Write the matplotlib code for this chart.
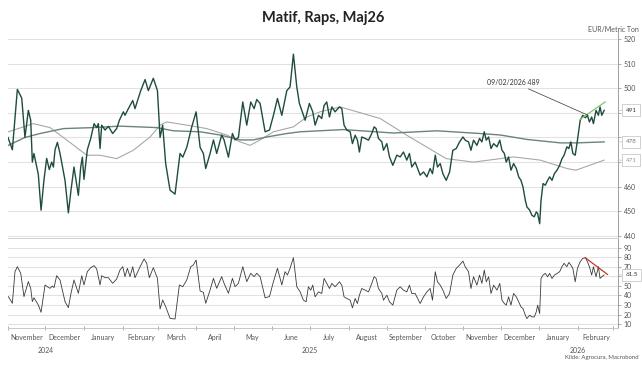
import matplotlib
matplotlib.use("Agg")
import matplotlib.pyplot as plt
import matplotlib.dates as mdates
import matplotlib.ticker as mticker
import pandas as pd

plt.rcParams['font.family'] = ['Lato', 'DejaVu Sans']

# data (days counted from 1 Nov 2024)
start = pd.Timestamp('2024-11-01')

price_days = [0, 3.5, 7.5, 11, 13.6, 16.3, 18.2, 19.5, 20.8, 24.3,
              26.5, 28.9, 31, 33.1, 35, 36.4, 37.7, 39.6, 41.7, 45.7,
              48.4, 50.5, 52.9, 56.4, 58.3, 59.6, 60.9, 63.6, 66.3, 69,
              71.1, 72.4, 73.8, 75.1, 77.8, 80.5, 83.9, 87.1, 89.3, 92.5,
              93.8, 96.5, 100, 101.8, 106.4, 109.9, 112.5, 116.5, 119.8, 121.9,
              124, 126.4, 129.9, 133.9, 137.9, 140.1, 143.3, 147.3, 150.8, 154,
              156.6, 158.5, 162, 164.7, 167.3, 171.3, 173.2, 176.7, 179.9, 182,
              184.7, 188.2, 191.4, 194.6, 197.3, 199.4, 202.1, 206.1, 209.6, 212.8,
              216, 219.5, 223.5, 226.1, 228.8, 231.5, 233.6,
              238.2, 241.6, 244.3, 246.2, 248.9, 251.5, 253.4, 255.5, 257.7, 259.6,
              262.2, 265.7, 267.6, 269.4, 271.6, 274.3, 276.1, 278.3, 280.1, 281.7,
              283.6, 286.3, 289, 291.6, 293.5, 295.1, 297, 299.7, 301, 303.7,
              305.8, 308.5, 311.7, 314.4, 317, 319.7, 321.8, 323.7, 326.4, 330.4,
              333.1, 335.8, 338.4, 340.3, 342.5, 344.3, 346.5, 348.6, 351.3, 354,
              356.6, 359.3, 362, 364.7, 366.5, 369.2, 371.1, 373.2, 375.9, 378,
              379.9, 381.8, 383.4, 385.3, 387.2, 389.3, 392, 394.2, 396, 397.9,
              399.4, 401.3, 403.2, 405.3, 407.5, 409.4, 411.2, 412.8, 414.7, 416,
              418.2, 420, 421.9, 423.5, 424.6, 426.2, 427.3, 428.9, 430.7, 432.6,
              434.2, 436.1, 438, 440.1, 442.2, 444.1, 445.8, 448, 449.6, 451.2,
              452.8, 454.7, 456.5, 458.7, 460.8, 462.9, 464.5, 466.1, 467.9, 469.3,
              471.4, 473.3, 474.6, 476, 477.9]
price = [480, 475, 499.5, 496, 480, 491, 487, 470, 473.5, 465,
         450.5, 463, 471.5, 467, 470, 468, 475, 478, 473.5, 462.6,
         449.4, 458.6, 468, 456.5, 468, 472, 463, 475, 479.6, 485.6,
         484, 485.6, 475.5, 485, 483, 484.5, 481.6, 483.6, 487, 490.4,
         489, 491.7, 495, 491.7, 499, 503.5, 499, 504, 499, 480,
         485, 469.4, 458.6, 457, 473.5, 472, 476, 484.3, 490.4, 476,
         473.5, 467.4, 473.5, 479, 473.5, 481, 479, 472, 481.6, 479,
         480, 494.4, 485, 494.4, 491.7, 495.4, 493.8, 482.3, 483, 489,
         495.8, 489, 499, 500.5, 513.8, 500.5, 493.8,
         487, 493.8, 490.4, 485, 489, 487.7, 493, 494.4, 488.3, 492.4,
         490.4, 492.4, 491.7, 485, 483, 482.3, 477.5, 480.9, 478.9, 474.1,
         480.2, 479.6, 478.9, 481.6, 484.3, 483.6, 479.6, 478.2, 474.8, 477.5,
         472.1, 468.7, 472.8, 472.1, 474.1, 470.8, 473.5, 468, 470, 464.7,
         466, 464, 467.4, 465.3, 472.8, 468, 469.4, 465.3, 462.6, 466,
         474.8, 475.5, 478.2, 480.2, 478.9, 478.2, 474.8, 478.9, 476.8, 479.6,
         478.2, 482.3, 478.9, 480.2, 475.5, 477.5, 476.2, 478.9, 474.8, 473.5,
         470, 472.1, 466.7, 469.4, 467.4, 464, 462.6, 460, 454.5, 451.8,
         450.5, 448.4, 447.8, 449.8, 449.1, 445, 454.5, 461.3, 460.6, 462.6,
         464, 462.6, 465.3, 466.7, 468.7, 471.4, 472.8, 476.2, 475.5, 478.2,
         473.5, 472.8, 478.9, 487, 489, 488, 489, 486.3, 488.3, 485.6,
         491, 489, 492.4, 489, 491]

ma_long_days = [0.3, 13.6, 25.7, 44.4, 68.4, 89.8, 119.2, 132.6, 154, 170,
                186, 196.7, 207.4, 223.5, 234.2, 268.9, 308.9, 343.8, 378.5, 394.6,
                416, 442.7, 456, 477.9]
ma_long = [476.8, 480, 481.6, 483.6, 484, 484.6, 484, 482.7, 482.3, 481,
           479, 479, 480.2, 481.6, 482.3, 483.2, 481.8, 482.7, 481.6, 481,
           479.2, 477.8, 477.8, 478.2]

ma_short_days = [0.3, 20.3, 33.7, 47, 63.1, 73.8, 87.1, 100.5, 113.9, 121.9,
                 127.2, 143.3, 159.3, 175.4, 186, 194.1, 202.1, 212.8, 228.8, 239.5,
                 250.2, 266.2, 298.3, 319.7, 351.3, 373.2, 405.3, 426.7, 448, 455.2,
                 477.9]
ma_short = [482.3, 485.6, 484, 479, 472.8, 472.8, 471.4, 474.8, 480.2, 485,
            486.3, 485, 483.6, 481, 478.2, 476.8, 479, 482.3, 484.3, 488.3,
            490.4, 492.4, 487.7, 480.9, 471.4, 470, 472.1, 470.8, 467.4, 466.7,
            470.8]

rsi_days = [0.3, 3.5, 5.6, 7.5, 10.2, 12.8, 16.3, 18.2, 19.5, 20.8,
            24.3, 26.5, 29.7, 31.5, 33.7, 35.6, 36.9, 39, 41.7, 45.7,
            48.4, 50.5, 52.9, 56.4, 59.1, 60.9, 63.6, 66.3, 69, 71.1,
            73.8, 75.1, 77.8, 80.5, 83.9, 87.1, 89.8, 92, 93.8, 95.7,
            97.8, 100, 101.8, 105.9, 109.1, 111.2, 113.3, 116.5, 119.8, 121.9,
            124, 126.4, 129.9, 133.9, 137.4, 140.1, 143.3, 146.5, 148.6, 150.8,
            154, 156.6, 158.5, 162, 164.7, 167.3, 171.3, 173.2, 176.7, 179.9,
            182, 184.7, 188.2, 191.4, 194.6, 197.3, 199.4, 202.1, 206.1, 209.6,
            212.8, 216, 219.5, 222.1, 224, 226.1, 228.8, 231.5,
            234.2, 236.8, 239, 240.8, 242.7, 244.3, 246.2, 248.9, 251.5, 253.4,
            255.5, 257.7, 259.6, 262.2, 265.7, 267.6, 269.4, 271.6, 274.3, 276.1,
            278.3, 280.1, 281.7, 283.6, 286.3, 289, 291.6, 293.5, 295.1, 297,
            299.7, 301, 303.7, 305.8, 308.5, 311.7, 314.4, 317, 319.7, 321.8,
            323.7, 326.4, 330.4, 333.1, 335.8, 338.4, 340.3, 342.5, 344.3, 346.5,
            348.6, 351.3, 354, 356.6, 359.3, 362, 364.7, 366.5, 369.2, 371.1,
            373.2, 375.9, 378, 379.9, 381.8, 383.4, 385.3, 387.2, 389.3, 392,
            394.2, 396, 397.9, 399.4, 401.3, 403.2, 405.3, 407.5, 409.4, 411.2,
            412.8, 414.7, 416, 418.2, 420, 421.9, 423.5, 424.6, 426.2, 427.3,
            428.9, 430.7, 432.6, 434.2, 436.1, 438, 440.1, 442.2, 444.1, 445.8,
            448, 449.6, 451.2, 452.8, 454.7, 456.5, 458.7, 460.8, 462.9, 464.5,
            466.1, 467.9, 469.3, 471.4, 473.3, 474.6, 476, 477.9]
rsi = [38.8, 31.8, 64.9, 70.1, 63.2, 38.8, 54.5, 47.5, 33.6, 37.7,
       30.1, 22.4, 51, 49.2, 47.5, 49.9, 48.2, 60.7, 56.2, 33.6,
       27.3, 42.3, 56.2, 42.3, 60.7, 51, 64.9, 69.1, 71.2, 67.7,
       51, 60.7, 58.6, 58.6, 52.7, 57.2, 66.7, 70.1, 59.7, 68.4,
       59.7, 70.1, 58.6, 70.1, 78.2, 73.6, 58.6, 69.1, 57.9, 25.9,
       35.3, 28.3, 16.1, 15.4, 51, 49.2, 56.2, 70.1, 71.9, 77.1,
       44.7, 43.3, 31.8, 45.7, 57.9, 47.5, 59.7, 52.7, 42.3, 57.9,
       49.2, 52.7, 70.1, 54.5, 63.2, 59.7, 63.2, 59.7, 37.7, 38.8,
       54.5, 68.4, 51, 64.9, 61.4, 68.4, 79.5, 49.2,
       43.8, 35.1, 33.4, 49.1, 45.6, 50.8, 38.6, 43.8, 42.1, 57.8,
       52.6, 47.3, 52.6, 49.1, 54.3, 50.8, 38.6, 36.9, 35.1, 27.1,
       36.9, 31.6, 40.3, 47.3, 45.6, 43.8, 52.6, 59.6, 57.8, 47.3,
       42.1, 35.1, 40.3, 33.4, 29.9, 45.6, 49.1, 45.6, 43.8, 50.8,
       42.1, 42.1, 31.6, 38.6, 43.8, 47.3, 35.1, 64.8, 54.3, 50.8,
       45.6, 36.9, 42.1, 61.3, 68.3, 71.8, 76, 70.1, 64.8, 47.3,
       59.6, 50.8, 61.3, 52.6, 66.6, 54.3, 59.6, 42.1, 50.8, 45.6,
       52.6, 35.1, 31.6, 29.9, 38.6, 29.9, 42.1, 38.6, 33.4, 28.1,
       26.4, 19.4, 15.9, 19.4, 17.6, 17.6, 22.9, 29.9, 21.1, 57.8,
       61.3, 63.1, 59.6, 63.1, 57.8, 61.3, 63.1, 64.8, 70.1, 73.6,
       70.1, 74.6, 71.8, 68.3, 54.3, 68.3, 75.3, 78.8, 79.5, 75.3,
       70.1, 61.3, 70.1, 59.6, 70.1, 57.8, 59.6, 61.5]

trend_days = [458.7, 478.7]
trend_price = [487.4, 494.4]
trend_rsi_days = [462.7, 480.6]
trend_rsi = [79.5, 62]

note_date = '2026-02-09'
note_value = 489
years = ['2024', '2025', '2026']
year_pos = ['2024-12-01', '2025-07-01', '2026-02-01']

# tick labels hidden behind the end-value boxes in the reference
price_ticks = [440, 450, 460, 470, 480, 490, 500, 510, 520]
price_tick_labels = ['440', '450', '460', '', '', '', '500', '510', '520']
rsi_ticks = [10, 20, 30, 40, 50, 60, 70, 80, 90]
rsi_tick_labels = ['10', '20', '30', '40', '50', '', '70', '80', '90']


def to_dates(d):
    return start + pd.to_timedelta(d, unit='D')


c_price = '#1f4d3d'
c_long = '#6b8479'
c_short = '#a8a8a8'
c_rsi = '#3a3a3a'
c_grid = '#e2e2e2'
c_axis = '#a0a0a0'
c_text = '#555555'

fig = plt.figure(figsize=(6.42, 3.67), dpi=100)
ax1 = fig.add_axes([8 / 642, 1 - 237 / 367, 610 / 642, 205 / 367])
ax2 = fig.add_axes([8 / 642, 1 - 328 / 367, 610 / 642, 90 / 367], sharex=ax1)

ax1.plot(to_dates(ma_short_days), ma_short, color=c_short, lw=0.8)
ax1.plot(to_dates(ma_long_days), ma_long, color=c_long, lw=1.0)
ax1.plot(to_dates(price_days), price, color=c_price, lw=1.0)
ax1.plot(to_dates(trend_days), trend_price, color='#7cc46a', lw=0.9)

ax2.plot(to_dates(rsi_days), rsi, color=c_rsi, lw=0.6)
ax2.plot(to_dates(trend_rsi_days), trend_rsi, color='#c0392b', lw=0.9)

xmin = start
xmax = start + pd.Timedelta(days=489)
ax1.set_xlim(xmin, xmax)

ax1.set_ylim(439.6, 522.8)
ax1.set_yticks(price_ticks, price_tick_labels)
ax2.set_ylim(6, 100.1)
ax2.set_yticks(rsi_ticks, rsi_tick_labels)

for ax in (ax1, ax2):
    ax.yaxis.tick_right()
    ax.grid(axis='y', color=c_grid, lw=0.8)
    ax.set_axisbelow(True)
    ax.tick_params(axis='y', labelsize=5, labelcolor=c_text, color=c_axis,
                   length=2, width=0.6, pad=2)
    for s in ('left', 'top', 'bottom'):
        ax.spines[s].set_visible(False)
    ax.spines['right'].set_color(c_axis)
    ax.spines['right'].set_linewidth(0.7)

ax2.spines['top'].set_visible(True)
ax2.spines['top'].set_color('#d0d0d0')
ax2.spines['top'].set_linewidth(0.7)
ax2.spines['bottom'].set_visible(True)
ax2.spines['bottom'].set_color('#c8c8c8')
ax2.spines['bottom'].set_linewidth(0.7)

ax1.tick_params(axis='x', which='both', length=0, labelbottom=False)
ax2.xaxis.set_major_locator(mdates.MonthLocator())
ax2.xaxis.set_major_formatter(mticker.NullFormatter())
ax2.xaxis.set_minor_locator(mdates.MonthLocator(bymonthday=16))
ax2.xaxis.set_minor_formatter(mdates.DateFormatter('%B'))
ax2.tick_params(axis='x', which='major', length=2.5, width=0.6, color=c_axis,
                direction='inout')
ax2.tick_params(axis='x', which='minor', length=0, labelsize=5,
                labelcolor=c_text, pad=4)

for y, d in zip(years, year_pos):
    ax2.text(pd.Timestamp(d), -0.25, y, transform=ax2.get_xaxis_transform(),
             ha='center', va='center', fontsize=5, color=c_text)

# end value labels
box = dict(boxstyle='square,pad=0.55', fc='white', ec='#bdbdbd', lw=0.5)
arr = dict(arrowstyle='-', color='#bdbdbd', lw=0.5, shrinkA=0, shrinkB=0)
end_labels = [
    (ax1, f'{price[-1]:.0f}', price[-1], '#333333'),
    (ax1, f'{ma_long[-1]:.0f}', ma_long[-1], '#6b7b74'),
    (ax1, f'{ma_short[-1]:.0f}', ma_short[-1], '#9a9a9a'),
    (ax2, f'{rsi[-1]:.1f}', rsi[-1], '#333333'),
]
for ax, txt, val, col in end_labels:
    ax.annotate(txt, xy=(1, val), xycoords=('axes fraction', 'data'),
                xytext=(5.5, 0), textcoords='offset points', ha='left',
                va='center', fontsize=4.5, color=col, bbox=box,
                arrowprops=arr, annotation_clip=False, zorder=5)

ax1.annotate(f'{pd.Timestamp(note_date):%d/%m/%Y} {note_value}',
             xy=(pd.Timestamp(note_date), note_value),
             xytext=(pd.Timestamp('2026-01-01'), 502.5), textcoords='data',
             ha='right', va='center', fontsize=5, color='#333333',
             arrowprops=dict(arrowstyle='-', color='#333333', lw=0.5,
                             shrinkA=1, shrinkB=0))

fig.text(0.503, 1 - 18 / 367, 'Matif, Raps, Maj26', ha='center', va='center',
         fontsize=10.5, fontweight='bold', color='#222222')
fig.text(639 / 642, 1 - 30 / 367, 'EUR/Metric Ton', ha='right', va='center',
         fontsize=5, color=c_text)
fig.text(639 / 642, 1 - 358 / 367, 'Kilde: Agrocura, Macrobond', ha='right',
         va='center', fontsize=4.3, color=c_text)

fig.savefig('out.png', dpi=100, facecolor='white')
